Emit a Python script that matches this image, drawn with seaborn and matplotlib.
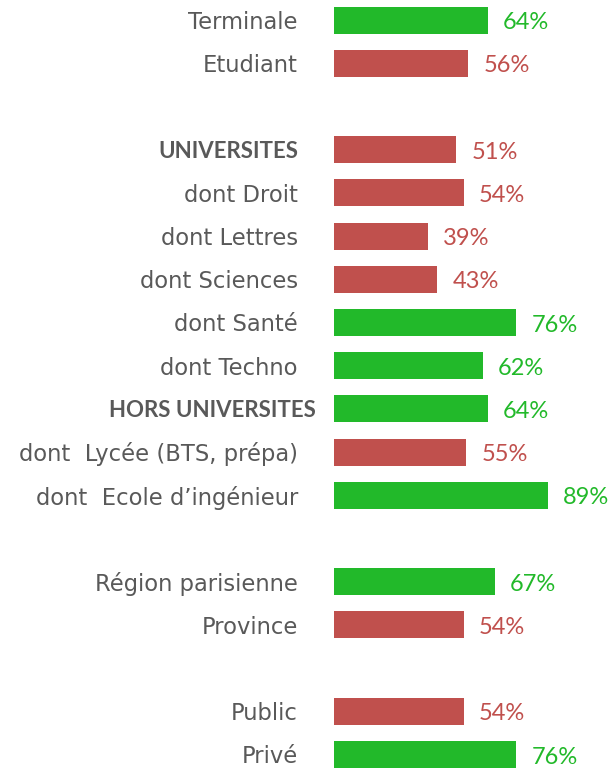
import matplotlib
matplotlib.use("Agg")
import matplotlib.pyplot as plt
import matplotlib.transforms as mtransforms
import seaborn as sns
import pandas as pd

# ---- data ----
group1_labels = ["Terminale", "Etudiant"]
group1_values = [64, 56]
group2_labels = ["UNIVERSITES", "dont Droit", "dont Lettres", "dont Sciences",
                 "dont Santé", "dont Techno", "HORS UNIVERSITES",
                 "dont  Lycée (BTS, prépa)", "dont  Ecole d\u2019ingénieur"]
group2_values = [51, 54, 39, 43, 76, 62, 64, 55, 89]
group3_labels = ["Région parisienne", "Province"]
group3_values = [67, 54]
group4_labels = ["Public", "Privé"]
group4_values = [54, 76]
bold_labels = ["UNIVERSITES", "HORS UNIVERSITES"]
threshold = 60  # bars at or above are green

groups = [(group1_labels, group1_values), (group2_labels, group2_values),
          (group3_labels, group3_values), (group4_labels, group4_values)]

rows, labels, values = [], [], []
r = 0
for gl, gv in groups:
    for l, v in zip(gl, gv):
        rows.append(r); labels.append(l); values.append(v)
        r += 1
    r += 1
df = pd.DataFrame({"row": rows, "label": labels, "value": values})
df["status"] = ["high" if v >= threshold else "low" for v in df["value"]]

GREEN = "#22B92A"
RED = "#C0504D"
GRAY = "#595959"
palette = {"high": GREEN, "low": RED}

W, H, DPI = 612, 768, 100
fig = plt.figure(figsize=(W / DPI, H / DPI), dpi=DPI)
left_px = 334
px_per_unit = 2.4
row_px = 43.2
first_px = 20
ax = fig.add_axes([left_px / W, 0, 1 - left_px / W, 1])

sns.barplot(data=df, x="value", y="row", hue="status", palette=palette,
            orient="h", native_scale=True, width=0.625, legend=False,
            saturation=1, ax=ax)

ax.set_xlim(0, (W - left_px) / px_per_unit)
ax.set_ylim((H - first_px) / row_px, -first_px / row_px)

ax.set_yticks(df["row"])
ax.set_yticklabels(df["label"])
ax.tick_params(axis="y", length=0, pad=26)
ax.set_xticks([])
for t, lab in zip(ax.get_yticklabels(), df["label"]):
    t.set_color(GRAY)
    if lab in bold_labels:
        t.set_fontfamily(["Lato", "DejaVu Sans"])
        t.set_fontweight("bold")
        t.set_fontsize(16)
    else:
        t.set_fontfamily(["DejaVu Sans"])
        t.set_fontsize(16.3)
    if lab == "HORS UNIVERSITES":
        t.set_transform(t.get_transform() + mtransforms.ScaledTranslation(18 / DPI, 0, fig.dpi_scale_trans))

for _, rr in df.iterrows():
    ax.annotate(f"{rr['value']}%", xy=(rr["value"], rr["row"]), xytext=(11, -2),
                textcoords="offset points", va="center", ha="left",
                fontsize=17, family=["Lato", "DejaVu Sans"],
                color=palette[rr["status"]])

for s in ax.spines.values():
    s.set_visible(False)
ax.set_xlabel("")
ax.set_ylabel("")
ax.patch.set_alpha(0)
fig.savefig("out.png", dpi=DPI)
